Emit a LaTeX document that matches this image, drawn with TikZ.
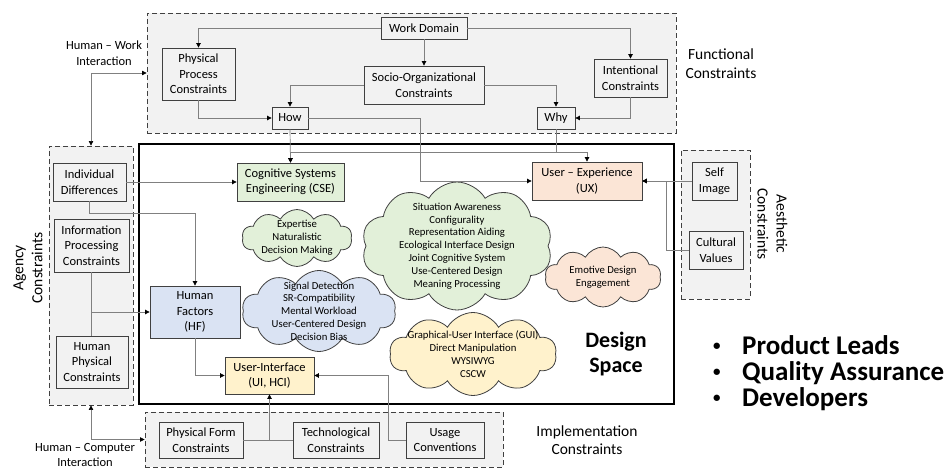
\documentclass[tikz,border=0pt]{standalone}
\usepackage{fontspec}
\setmainfont{Carlito}
\usetikzlibrary{positioning,arrows.meta,shapes.symbols,calc}
\usepackage{xcolor}

\definecolor{groupgray}{HTML}{F2F2F2}
\definecolor{edgegray}{HTML}{404040}
\definecolor{linegray}{HTML}{808080}
\definecolor{csegreen}{HTML}{E2F0D9}
\definecolor{uxpeach}{HTML}{FBE5D6}
\definecolor{hfblue}{HTML}{DAE3F3}
\definecolor{uiyellow}{HTML}{FFF2CC}

\newcommand{\boxfont}{\fontsize{12.5}{15.5}\selectfont}
\newcommand{\cloudfont}{\fontsize{10.7}{12.8}\selectfont}
\newcommand{\outerfont}{\fontsize{15.5}{19}\selectfont}
\newcommand{\dsfont}{\fontsize{22}{25}\selectfont\bfseries}
\newcommand{\rolefont}{\fontsize{27}{26}\selectfont\bfseries}
\newcommand{\roledot}{\makebox[29pt][l]{\raisebox{4pt}{\fontsize{15}{15}\selectfont•}}}

\begin{document}
\begin{tikzpicture}[
			x=1pt, y=-1pt,
			group/.style={rectangle, draw=edgegray, dash pattern=on 5pt off 3pt, line width=0.9pt, fill=groupgray, inner sep=0pt},
			box/.style={rectangle, draw=edgegray, line width=0.8pt, fill=groupgray, align=center, inner sep=0pt, font=\boxfont},
			design/.style={rectangle, draw=black, line width=2.4pt, fill=white, inner sep=0pt},
			cloudbg/.style={cloud, cloud puffs=10, cloud puff arc=120, aspect=1.6, draw=edgegray, line width=0.8pt, inner sep=0pt},
			cloudtext/.style={align=center, font=\cloudfont, inner sep=0pt},
			outer/.style={align=center, font=\outerfont},
			arrow/.style={draw=linegray, line width=0.7pt, -{Triangle[length=4.5pt, width=4.5pt, color=black]}},
			dblarrow/.style={draw=linegray, line width=0.7pt, {Triangle[length=4.5pt, width=4.5pt, color=black]}-{Triangle[length=4.5pt, width=4.5pt, color=black]}},
			plainline/.style={draw=linegray, line width=0.7pt}
			]
			
			\path[use as bounding box, fill=white] (0,0) rectangle (949,470);
			
			% Constraint groups
			\node[group, minimum width=529, minimum height=120] (functional) at (411.5,73) {};
			\node[group, minimum width=84, minimum height=259] (agency) at (91,275.5) {};
			\node[group, minimum width=69, minimum height=149] (aesthetic) at (715.5,224.5) {};
			\node[group, minimum width=358, minimum height=55] (implement) at (324,439.5) {};
			
			% Design space
			\node[design, minimum width=535, minimum height=260] (designspace) at (406.5,274) {};
			
			% Functional constraints
			\node[box, minimum width=86, minimum height=22] (workdomain) at (424,28) {Work Domain};
			\node[box, minimum width=73, minimum height=52] (physproc) at (198.5,74) {Physical\\Process\\Constraints};
			\node[box, minimum width=120, minimum height=38] (socio) at (424,85) {Socio-Organizational\\Constraints};
			\node[box, minimum width=73, minimum height=38] (intent) at (630.5,78) {Intentional\\Constraints};
			\node[box, minimum width=36, minimum height=22] (how) at (290,118) {How};
			\node[box, minimum width=38, minimum height=22] (why) at (556,118) {Why};
			
			% Agency constraints
			\node[box, minimum width=73, minimum height=38] (indiv) at (89.5,182) {Individual\\Differences};
			\node[box, minimum width=75, minimum height=53] (infoproc) at (91.5,245.5) {Information\\Processing\\Constraints};
			\node[box, minimum width=72, minimum height=52] (humphys) at (92,362) {Human\\Physical\\Constraints};
			
			% Aesthetic constraints
			\node[box, minimum width=45, minimum height=38] (selfimg) at (714.5,181) {Self\\Image};
			\node[box, minimum width=54, minimum height=38] (cultural) at (716,250) {Cultural\\Values};
			
			% Implementation constraints
			\node[box, minimum width=84, minimum height=36] (physform) at (201,440) {Physical Form\\Constraints};
			\node[box, minimum width=86, minimum height=36] (techcon) at (336,440) {Technological\\Constraints};
			\node[box, minimum width=78, minimum height=36] (usage) at (445,440) {Usage\\Conventions};
			
			% Disciplines in the design space
			\node[box, fill=csegreen, minimum width=107, minimum height=38] (cse) at (290.5,182) {Cognitive Systems\\Engineering (CSE)};
			\node[box, fill=uxpeach, minimum width=110, minimum height=38] (ux) at (587,181) {User -- Experience\\(UX)};
			\node[box, fill=hfblue, minimum width=90, minimum height=52] (hf) at (195,312) {Human\\Factors\\(HF)};
			\node[box, fill=uiyellow, minimum width=89, minimum height=37] (ui) at (269.5,375.5) {User-Interface\\(UI, HCI)};
			
			% Clouds
			\node[cloudbg, fill=csegreen, minimum width=110, minimum height=57,
				label={[cloudtext]center:Expertise\\Naturalistic\\Decision Making}] (expcloud) at (297,238) {};
			\node[cloudbg, fill=csegreen, minimum width=191, minimum height=128,
				label={[cloudtext]center:Situation Awareness\\Configurality\\Representation Aiding\\Ecological Interface Design\\Joint Cognitive System\\Use-Centered Design\\Meaning Processing}] (cogcloud) at (457,246) {};
			\node[cloudbg, fill=hfblue, minimum width=154, minimum height=81,
				label={[cloudtext]center:Signal Detection\\SR-Compatibility\\Mental Workload\\User-Centered Design\\Decision Bias}] (hfcloud) at (319,311) {};
			\node[cloudbg, fill=uiyellow, minimum width=167, minimum height=83,
				label={[cloudtext]center:Graphical-User Interface (GUI)\\Direct Manipulation\\WYSIWYG\\CSCW}] (uicloud) at (473,354) {};
			\node[cloudbg, fill=uxpeach, minimum width=116, minimum height=60,
				label={[cloudtext]center:Emotive Design\\Engagement}] (uxcloud) at (603,277) {};
			
			% Outer labels
			\node[outer] (funclabel) at (721,64) {Functional\\Constraints};
			\node[outer, rotate=-90] (aeslabel) at (772.5,224) {Aesthetic\\Constraints};
			\node[outer, rotate=90] (agencylabel) at (28,268) {Agency\\Constraints};
			\node[outer, font=\fontsize{15.5}{17.5}\selectfont] (implabel) at (587,440) {Implementation\\Constraints};
			\node[align=center, font=\boxfont] (hwlabel) at (104,53) {Human -- Work\\Interaction};
			\node[align=center, font=\boxfont] (hclabel) at (85,455) {Human -- Computer\\Interaction};
			\node[align=center, font=\dsfont] (dslabel) at (616,354) {Design\\Space};
			\node[anchor=west, align=left, font=\rolefont, inner sep=0pt] (roles) at (713,373) {\roledot Product Leads\\\roledot Quality Assurance\\\roledot Developers};
			
			% Arrows: functional
			\draw[arrow] (workdomain.west) -| (physproc.north);
			\draw[arrow] (workdomain.south) -- (socio.north);
			\draw[arrow] (workdomain.east) -| (intent.north);
			\draw[arrow] (physproc.south) |- (how.west);
			\draw[arrow] (socio.west) -| (how.north);
			\draw[arrow] (socio.east) -| (why.north);
			\draw[arrow] (intent.south) |- (why.east);
			
			% Arrows: how and why into the design space
			\coordinate (whyfork) at (556,152);
			\coordinate (howbend) at (420,118);
			\draw[arrow] (how.south) -- (cse.north);
			\draw[arrow] (why.south) -- (whyfork) -| (cse.north);
			\draw[arrow] (whyfork) -| (ux.north);
			\draw[arrow] (how.east) -- (howbend) |- (ux.west);
			
			% Arrows: agency
			\draw[arrow] (indiv.east) -- (cse.west);
			\draw[arrow] (indiv.south) -- ++(0,12) -| (hf.north);
			\draw[plainline] (infoproc.south) -- (infoproc.south |- humphys.north);
			\draw[arrow] (infoproc.south |- hf.west) -- (hf.west);
			
			% Arrows: aesthetic
			\coordinate (aesjoin) at (666,181);
			\draw[arrow] (selfimg.west) -- (ux.east);
			\draw[arrow] (cultural.west) -| (aesjoin) -- (ux.east);
			
			% Arrows: design space and implementation
			\coordinate (usebend) at (388,440);
			\draw[arrow] (hf.south) |- (ui.west);
			\draw[plainline] (physform.east) -- (techcon.west);
			\draw[arrow] (physform.east -| ui.south) -- (ui.south);
			\draw[arrow] (usage.west) -- (usebend) |- (ui.east);
			
			% Interactions
			\draw[dblarrow] (agency.north) |- (functional.west);
			\draw[dblarrow] (agency.south) |- (implement.west);
			
		\end{tikzpicture}
\end{document}
